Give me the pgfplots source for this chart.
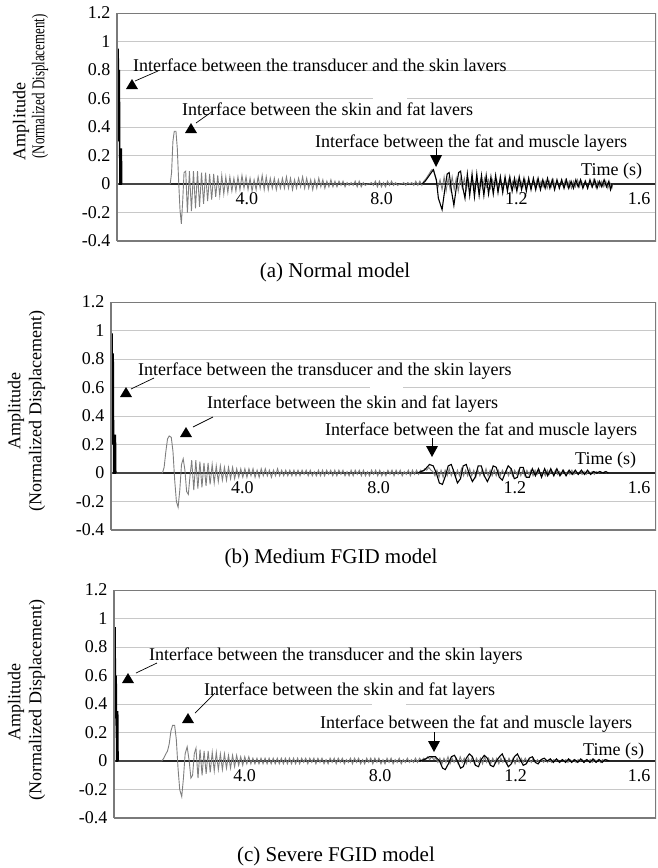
\documentclass[border=0pt]{standalone}
\usepackage{pgfplots}
\pgfplotsset{compat=1.18}
\usepackage{fontspec}
\setmainfont{Liberation Serif}
\newfontfamily\condfont[FakeStretch=0.72]{Liberation Serif}
\newcommand\fs{\fontsize{18}{21}\selectfont}
\newcommand\fcap{\fontsize{21}{24}\selectfont}
\definecolor{sig}{HTML}{7F7F7F}
\definecolor{framec}{HTML}{7A7A7A}
\definecolor{gridc}{HTML}{C8C8C8}

\pgfplotsset{
  panel/.style={
    anchor=north west, height=228pt, scale only axis,
    xmin=0, xmax=160, ymin=-0.4, ymax=1.2,
    axis x line*=middle, axis y line*=left,
    hide obscured x ticks=false, hide obscured y ticks=false,
    x axis line style={black!85, line width=1.1pt},
    y axis line style={framec, line width=1.2pt},
    major tick length=0pt,
    ytick={-0.4,-0.2,0,0.2,0.4,0.6,0.8,1,1.2},
    yticklabels={-0.4,-0.2,0,0.2,0.4,0.6,0.8,1,1.2},
    xtick={40,80,120}, xticklabels={4.0,8.0,1.2},
    extra x ticks={160}, extra x tick labels={1.6},
    extra x tick style={xticklabel style={anchor=north east, xshift=3pt}},
    tick label style={font=\fs},
    yticklabel style={xshift=-3pt},
    xticklabel style={xshift=-5pt, yshift=-5pt},
    ymajorgrids, grid style={gridc, line width=0.8pt},
  },
  grey/.style={sig, line width=0.9pt},
  blk/.style={black, line width=1.1pt},
}

\begin{document}
\begin{tikzpicture}
\useasboundingbox (0,0) rectangle (657pt,-868pt);

% ---------------- (a) Normal model
\begin{axis}[panel, at={(117pt,-13pt)}, width=539pt]
\addplot[grey] coordinates {
(0,0)(15.8,0)(16.2,0.08)(16.6,0.30)(17.0,0.37)(17.5,0.37)(17.9,0.25)(18.3,0.02)(18.7,-0.18)(19.1,-0.28)
(19.5,-0.12)(19.9,0.08)(20.4,0.09)(20.9,-0.20)(21.5,0.09)(22.1,-0.19)(22.7,0.09)(23.3,-0.17)(23.9,0.09)(24.5,-0.16)
(25.1,0.08)(25.7,-0.14)(26.3,0.08)(26.9,-0.12)(27.5,0.07)(28.1,-0.11)(28.7,0.07)(29.3,-0.09)(29.9,0.06)(30.5,-0.08)
(31.1,0.06)(31.7,-0.07)(32.3,0.05)(32.9,-0.06)(33.5,0.05)(34.1,-0.05)(34.7,0.04)(35.3,-0.05)(35.9,0.05)(36.5,-0.04)
(37.1,0.06)(37.7,-0.03)(38.3,0.05)(38.9,-0.04)(39.5,0.04)(40.1,-0.05)(40.7,0.03)(41.3,-0.04)(41.9,0.05)(42.5,-0.03)
(43.1,0.06)(43.7,-0.04)(44.3,0.05)(44.9,-0.04)(45.5,0.04)(46.1,-0.03)(46.7,0.04)(47.3,-0.04)(47.9,0.03)(48.5,-0.03)
(49.1,0.04)(49.7,-0.03)(50.3,0.05)(50.9,-0.03)(51.5,0.04)(52.1,-0.04)(52.7,0.03)(53.3,-0.03)(53.9,0.04)(54.5,-0.02)
(55.1,0.05)(55.7,-0.03)(56.3,0.04)(56.9,-0.03)(57.5,0.03)(58.1,-0.04)(58.7,0.03)(59.3,-0.03)(59.9,0.04)(60.5,-0.02)
(61.1,0.03)(61.7,-0.03)(62.3,0.02)(62.9,-0.02)(63.5,0.03)(64.1,-0.02)(64.7,0.02)(65.3,-0.02)(65.9,0.02)(66.5,-0.01)
(67.1,0.02)(67.7,-0.02)(68.3,0.01)(68.9,-0.01)(69.5,0.01)(70.1,-0.01)(70.7,0.02)(71.3,-0.02)(71.9,0.02)(72.5,-0.02)
(73.1,0.01)(73.7,-0.01)(74.3,0)(74.9,0)(75.5,0.01)(76.1,-0.01)(76.7,0.02)(77.3,-0.02)(77.9,0.02)(78.5,-0.02)
(79.1,0.01)(79.7,-0.02)(80.3,0.02)(80.9,-0.01)(81.5,0.02)(82.1,-0.01)(82.7,0.01)(83.3,-0.01)(83.9,0)(84.5,0)
(85.1,0.01)(85.7,-0.01)(86.3,0.01)(86.9,0)(87.5,0.01)(88.1,-0.01)(88.7,0.02)(89.3,-0.01)(89.9,0.02)(90.5,-0.01)
(91.1,0.02)(91.8,0.04)(92.6,0.07)(93.4,0.10)(94.0,0.10)(94.6,0.04)(95.3,-0.02)(95.9,0.03)(96.5,-0.04)(97.1,0.05)
(97.7,-0.05)(98.3,0.04)(98.9,-0.04)(99.5,0.05)(100.1,-0.04)(100.7,0.04)(101.3,-0.05)(101.9,0.04)(102.5,-0.03)(103.1,0.04)
(103.7,-0.04)(104.3,0.03)(104.9,-0.03)(105.5,0.04)(106.1,-0.03)(106.7,0.03)(107.3,-0.04)(107.9,0.03)(108.5,-0.03)(109.1,0.04)
(109.7,-0.02)(110.3,0.03)(110.9,-0.03)(111.5,0.03)(112.1,-0.02)(112.7,0.03)(113.3,-0.03)(113.9,0.02)(114.5,-0.03)(115.1,0.03)
(115.7,-0.02)(116.3,0.03)(116.9,-0.02)(117.5,0.02)(118.1,-0.03)(118.7,0.03)(119.3,-0.02)(119.9,0.02)(120.5,-0.02)(121.1,0.03)
(121.7,-0.02)(122.3,0.02)(122.9,-0.03)(123.5,0.02)(124.1,-0.02)(124.7,0.03)(125.3,-0.02)(125.9,0.02)(126.5,-0.02)(127.1,0.02)
(127.7,-0.03)(128.3,0.02)(128.9,-0.02)(129.5,0.03)(130.1,-0.02)(130.7,0.02)(131.3,-0.02)(131.9,0.02)(132.5,-0.02)(133.1,0.03)
(133.7,-0.02)(134.3,0.02)(134.9,-0.03)(135.5,0.02)(136.1,-0.02)(136.7,0.03)(137.3,-0.02)(137.9,0.02)(138.5,-0.02)(139.1,0.02)
(139.7,-0.03)(140.3,0.02)(140.9,-0.02)(141.5,0.03)(142.1,-0.02)(142.7,0.02)(143.3,-0.02)(143.9,0.02)(144.5,-0.02)(145.1,0.02)
(145.7,-0.03)(146.3,0.01)(146.9,-0.03)(147.2,0)
};
\addplot[blk, line width=1.5pt] coordinates {
(0,0)(0.15,0.66)(0.35,0.95)(0.55,0.3)(0.7,0.80)(0.85,0)(1.2,0)(1.3,0.25)(1.4,0)
};
\addplot[blk] coordinates {
(90.5,0)(91.5,0.02)(92.7,0.06)(93.9,0.10)(94.8,0.03)(95.4,-0.10)(96.5,-0.18)(97.3,-0.04)(98.0,0.07)(98.6,0.08)
(99.3,-0.05)(100.0,-0.15)(100.7,-0.03)(101.4,0.08)(102.0,0.09)(102.7,-0.03)(103.3,-0.10)(104.0,0.07)(104.7,-0.08)(105.4,0.07)
(106.1,-0.09)(106.8,0.07)(107.5,-0.08)(108.2,0.06)(108.9,-0.08)(109.6,0.06)(110.3,-0.07)(111.0,0.05)(111.7,-0.07)(112.4,0.06)
(113.1,-0.06)(113.8,0.05)(114.5,-0.06)(115.2,0.05)(115.9,-0.05)(116.6,0.05)(117.3,-0.05)(118.0,0.04)(118.7,-0.05)(119.4,0.05)
(120.1,-0.04)(120.8,0.04)(121.5,-0.05)(122.2,0.04)(122.9,-0.04)(123.6,0.04)(124.3,-0.04)(125.0,0.04)(125.7,-0.04)(126.4,0.03)
(127.1,-0.03)(127.8,0.04)(128.5,-0.03)(129.2,0.03)(129.9,-0.04)(130.6,0.03)(131.3,-0.03)(132.0,0.03)(132.7,-0.03)(133.4,0.03)
(134.1,-0.03)(134.8,0.02)(135.5,-0.03)(136.2,0.03)(136.9,-0.02)(137.6,0.03)(138.3,-0.03)(139.0,0.02)(139.7,-0.03)(140.4,0.03)
(141.1,-0.02)(141.8,0.03)(142.5,-0.03)(143.2,0.02)(143.9,-0.02)(144.6,0.03)(145.3,-0.02)(146.0,0.02)(146.5,-0.04)(147.0,0)
};
\draw[framec, line width=1.2pt] (rel axis cs:0,0) rectangle (rel axis cs:1,1);
\end{axis}

% ---------------- (b) Medium FGID model
\begin{axis}[panel, at={(111pt,-302pt)}, width=545pt]
\addplot[grey] coordinates {
(0,0)(15.1,0)(15.6,0.04)(16.1,0.15)(16.6,0.24)(17.1,0.26)(17.7,0.25)(18.2,0.15)(18.7,-0.05)(19.2,-0.20)
(19.7,-0.24)(20.2,-0.12)(20.7,0.06)(21.2,0.10)(21.7,0.02)(22.2,-0.13)(22.7,-0.15)(23.2,-0.02)(23.7,0.09)(24.3,-0.12)
(24.9,0.09)(25.5,-0.11)(26.1,0.08)(26.7,-0.10)(27.3,0.07)(27.9,-0.09)(28.5,0.07)(29.1,-0.08)(29.7,0.06)(30.3,-0.07)
(30.9,0.05)(31.5,-0.06)(32.1,0.05)(32.7,-0.05)(33.3,0.04)(33.9,-0.05)(34.5,0.04)(35.1,-0.04)(35.7,0.04)(36.3,-0.04)
(36.9,0.03)(37.5,-0.03)(38.1,0.03)(38.7,-0.03)(39.3,0.03)(39.9,-0.03)(40.5,0.03)(41.1,-0.02)(41.7,0.03)(42.3,-0.03)
(42.9,0.02)(43.5,-0.03)(44.1,0.03)(44.7,-0.02)(45.3,0.03)(45.9,-0.02)(46.5,0.02)(47.1,-0.03)(47.7,0.02)(48.3,-0.02)
(48.9,0.03)(49.5,-0.02)(50.1,0.02)(50.7,-0.02)(51.3,0.02)(51.9,-0.02)(52.5,0.02)(53.1,-0.02)(53.7,0.02)(54.3,-0.02)
(54.9,0.02)(55.5,-0.02)(56.1,0.02)(56.7,-0.01)(57.3,0.02)(57.9,-0.02)(58.5,0.02)(59.1,-0.02)(59.7,0.01)(60.3,-0.02)
(60.9,0.02)(61.5,-0.02)(62.1,0.02)(62.7,-0.02)(63.3,0.02)(63.9,-0.01)(64.5,0.02)(65.1,-0.02)(65.7,0.02)(66.3,-0.02)
(66.9,0.02)(67.5,-0.01)(68.1,0.02)(68.7,-0.02)(69.3,0.01)(69.9,-0.02)(70.5,0.02)(71.1,-0.02)(71.7,0.02)(72.3,-0.01)
(72.9,0.02)(73.5,-0.02)(74.1,0.02)(74.7,-0.02)(75.3,0.01)(75.9,-0.02)(76.5,0.02)(77.1,-0.01)(77.7,0.02)(78.3,-0.02)
(78.9,0.02)(79.5,-0.02)(80.1,0.01)(80.7,-0.02)(81.3,0.02)(81.9,-0.01)(82.5,0.02)(83.1,-0.02)(83.7,0.02)(84.3,-0.01)
(84.9,0.02)(85.5,-0.02)(86.1,0.01)(86.7,-0.01)(87.3,0.02)(87.9,-0.02)(88.5,0.02)(89.1,-0.01)(89.7,0.02)(90.3,-0.01)
(90.9,0.02)(91.5,0.01)(92.1,0.03)(92.7,0.02)(93.3,0.04)(93.9,0.02)(94.5,0.01)(95.1,-0.02)(95.7,0.02)(96.3,-0.03)
(96.9,0.02)(97.5,-0.03)(98.1,0.02)(98.7,-0.02)(99.3,0.03)(99.9,-0.02)(100.5,0.02)(101.1,-0.03)(101.7,0.02)(102.3,-0.02)
(102.9,0.03)(103.5,-0.02)(104.1,0.02)(104.7,-0.02)(105.3,0.03)(105.9,-0.02)(106.5,0.02)(107.1,-0.03)(107.7,0.02)(108.3,-0.02)
(108.9,0.02)(109.5,-0.02)(110.1,0.03)(110.7,-0.02)(111.3,0.02)(111.9,-0.02)(112.5,0.02)(113.1,-0.02)(113.7,0.02)(114.3,-0.02)
(114.9,0.02)(115.5,-0.01)(116.1,0.02)(116.7,-0.02)(117.3,0.02)(117.9,-0.02)(118.5,0.02)(119.1,-0.01)(119.7,0.02)(120.3,-0.02)
(120.9,0.02)(121.5,-0.02)(122.1,0.02)(122.7,-0.01)(123.3,0.02)(123.9,-0.02)(124.5,0.02)(125.1,-0.01)(125.7,0.02)(126.3,-0.02)
(126.9,0.01)(127.5,-0.02)(128.1,0.02)(128.7,-0.01)(129.3,0.02)(129.9,-0.01)(130.5,0.02)(131.1,-0.01)(131.7,0.01)(132.3,-0.01)
(132.9,0.02)(133.5,-0.01)(134.1,0.01)(134.7,-0.01)(135.3,0.02)(135.9,-0.01)(136.5,0.01)(137.1,-0.01)(137.7,0.01)(138.3,-0.01)
(138.9,0.01)(139.5,-0.01)(140.1,0.01)(140.7,0)(141.3,0.01)(141.9,-0.01)(142.5,0.01)(143.1,0)(143.7,0.01)(144.3,0)
(145.0,0.01)(145.5,0)
};
\addplot[blk, line width=1.5pt] coordinates {
(0,0)(0.1,0.56)(0.3,0.98)(0.5,0.2)(0.65,0.84)(0.8,0)(1.2,0)(1.3,0.27)(1.4,0)
};
\addplot[blk] coordinates {
(90.0,0)(92.0,0.02)(93.5,0.06)(94.6,0.05)(95.5,0)(96.4,-0.07)(97.3,-0.08)(98.2,-0.02)(99.0,0.05)(99.9,0.06)
(100.8,0)(101.7,-0.07)(102.6,-0.04)(103.4,0.05)(104.3,0.06)(105.2,-0.01)(106.1,-0.06)(106.9,-0.03)(107.8,0.05)(108.7,0.05)
(109.6,-0.02)(110.5,-0.06)(111.3,-0.02)(112.2,0.05)(113.1,0.04)(114.0,-0.03)(114.9,-0.05)(115.7,0)(116.6,0.05)(117.5,0.03)
(118.4,-0.04)(119.3,-0.03)(120.1,0.04)(121.0,0.04)(121.9,-0.03)(122.8,-0.03)(123.7,0.03)(124.6,-0.02)(125.5,0.03)(126.4,-0.03)
(127.3,0.03)(128.2,-0.02)(129.1,0.03)(130.0,-0.02)(130.9,0.03)(131.8,-0.02)(132.7,0.02)(133.6,-0.02)(134.5,0.02)(135.4,-0.01)
(136.3,0.02)(137.2,-0.01)(138.1,0.02)(139.0,-0.01)(139.9,0.02)(140.8,-0.01)(141.7,0.01)(142.6,0)(143.5,0.01)(144.4,0)
(145.3,0.01)(146.0,0)
};
\draw[framec, line width=1.2pt] (rel axis cs:0,0) rectangle (rel axis cs:1,1);
\end{axis}

% ---------------- (c) Severe FGID model
\begin{axis}[panel, at={(114pt,-590pt)}, width=542pt]
\addplot[grey] coordinates {
(0,0)(14.1,0)(14.7,0.02)(15.3,0.05)(15.8,0.07)(16.3,0.12)(16.8,0.21)(17.3,0.25)(17.9,0.25)(18.4,0.15)
(18.9,-0.05)(19.4,-0.20)(20.0,-0.25)(20.5,-0.12)(21.0,0.05)(21.6,0.10)(22.2,0)(22.7,-0.12)(23.2,-0.10)(23.7,0.05)
(24.2,0.09)(24.8,-0.12)(25.4,0.08)(26.0,-0.10)(26.6,0.07)(27.2,-0.09)(27.8,0.07)(28.4,-0.08)(29.0,0.06)(29.6,-0.07)
(30.2,0.06)(30.8,-0.06)(31.4,0.05)(32.0,-0.06)(32.6,0.05)(33.2,-0.05)(33.8,0.04)(34.4,-0.05)(35.0,0.04)(35.6,-0.04)
(36.2,0.04)(36.8,-0.03)(37.4,0.03)(38.0,-0.03)(38.6,0.03)(39.2,-0.02)(39.8,0.03)(40.4,-0.02)(41.0,0.02)(41.6,-0.02)
(42.2,0.02)(42.8,-0.02)(43.4,0.02)(44.0,-0.02)(44.6,0.02)(45.2,-0.02)(45.8,0.02)(46.4,-0.02)(47.0,0.02)(47.6,-0.02)
(48.2,0.02)(48.8,-0.02)(49.4,0.02)(50.0,-0.02)(50.6,0.02)(51.2,-0.02)(51.8,0.02)(52.4,-0.02)(53.0,0.02)(53.6,-0.02)
(54.2,0.02)(54.8,-0.02)(55.4,0.02)(56.0,-0.01)(56.6,0.02)(57.2,-0.02)(57.8,0.02)(58.4,-0.01)(59.0,0.02)(59.6,-0.02)
(60.2,0.02)(60.8,-0.01)(61.4,0.02)(62.0,-0.02)(62.6,0.01)(63.2,-0.02)(63.8,0.02)(64.4,-0.01)(65.0,0.02)(65.6,-0.02)
(66.2,0.02)(66.8,-0.01)(67.4,0.02)(68.0,-0.02)(68.6,0.01)(69.2,-0.01)(69.8,0.02)(70.4,-0.02)(71.0,0.02)(71.6,-0.01)
(72.2,0.02)(72.8,-0.02)(73.4,0.01)(74.0,-0.02)(74.6,0.02)(75.2,-0.01)(75.8,0.02)(76.4,-0.02)(77.0,0.02)(77.6,-0.01)
(78.2,0.02)(78.8,-0.02)(79.4,0.01)(80.0,-0.02)(80.6,0.02)(81.2,-0.01)(81.8,0.02)(82.4,-0.02)(83.0,0.01)(83.6,-0.01)
(84.2,0.02)(84.8,-0.02)(85.4,0.01)(86.0,-0.01)(86.6,0.02)(87.2,-0.01)(87.8,0.01)(88.4,-0.01)(89.0,0.02)(89.6,-0.01)
(90.2,0.02)(90.8,0)(91.4,0.02)(92.0,0.01)(92.6,0.03)(93.2,0.01)(93.8,0.03)(94.4,0.01)(95.0,0.02)(95.6,-0.01)
(96.2,0.02)(96.8,-0.02)(97.4,0.02)(98.0,-0.01)(98.6,0.03)(99.2,-0.02)(99.8,0.02)(100.4,-0.01)(101.0,0.02)(101.6,-0.02)
(102.2,0.03)(102.8,-0.01)(103.4,0.02)(104.0,-0.02)(104.6,0.02)(105.2,-0.01)(105.8,0.03)(106.4,-0.02)(107.0,0.02)(107.6,-0.01)
(108.2,0.02)(108.8,-0.02)(109.4,0.03)(110.0,-0.01)(110.6,0.02)(111.2,-0.02)(111.8,0.02)(112.4,-0.01)(113.0,0.02)(113.6,-0.02)
(114.2,0.02)(114.8,-0.01)(115.4,0.02)(116.0,-0.02)(116.6,0.02)(117.2,-0.01)(117.8,0.02)(118.4,-0.02)(119.0,0.02)(119.6,-0.01)
(120.2,0.02)(120.8,-0.01)(121.4,0.02)(122.0,-0.01)(122.6,0.01)(123.2,-0.01)(123.8,0.02)(124.4,-0.01)(125.0,0.01)(125.6,-0.01)
(126.2,0.01)(126.8,-0.01)(127.4,0.01)(128.0,-0.01)(128.6,0.01)(129.2,-0.01)(129.8,0.01)(130.4,0)(131.0,0.01)(131.6,-0.01)
(132.2,0.01)(132.8,0)(133.4,0.01)(134.0,-0.01)(134.6,0.01)(135.2,0)(135.8,0.01)(136.4,-0.01)(137.0,0.01)(137.6,0)
(138.2,0.01)(138.8,-0.01)(139.4,0.01)(140.0,0)(140.6,0.01)(141.2,-0.01)(141.8,0.01)(142.4,0)(143.0,0.01)(143.6,-0.01)
(144.2,0.01)(144.8,0)(145.4,0.01)(146.0,0)
};
\addplot[blk, line width=1.5pt] coordinates {
(0,0)(0.1,0.22)(0.3,0.94)(0.5,0.3)(0.65,0.6)(0.8,0)(1.0,0)(1.1,0.35)(1.2,0)
};
\addplot[blk] coordinates {
(90.2,0)(91.6,0.01)(93.1,0.03)(94.9,0.03)(96.1,0)(97.0,-0.05)(97.8,-0.06)(98.7,-0.02)(99.6,0.03)(100.5,0.04)
(101.4,0)(102.3,-0.05)(103.1,-0.04)(104.0,0.02)(104.9,0.05)(105.8,0.03)(106.7,-0.03)(107.6,-0.04)(108.4,0.01)(109.3,0.04)
(110.2,0.02)(111.1,-0.03)(112.0,-0.04)(112.9,0)(113.8,0.03)(114.6,0.05)(115.5,0)(116.4,-0.04)(117.3,-0.02)(118.2,0.03)
(119.1,0.05)(119.9,0.01)(120.8,-0.03)(121.7,-0.02)(122.6,0.02)(123.5,0.03)(124.4,-0.01)(125.2,-0.02)(126.1,0.01)(127.0,0.02)
(127.9,0)(128.8,0.015)(129.7,-0.01)(130.6,0.015)(131.5,-0.01)(132.4,0.01)(133.3,-0.01)(134.2,0.015)(135.1,-0.01)(136.0,0.01)
(136.9,-0.01)(137.8,0.015)(138.7,-0.01)(139.6,0.01)(140.5,-0.01)(141.4,0.015)(142.3,-0.01)(143.2,0.01)(144.1,-0.01)(145.0,0.01)
(146.2,0)
};
\draw[framec, line width=1.2pt] (rel axis cs:0,0) rectangle (rel axis cs:1,1);
\end{axis}

\begin{scope}[x=1pt, y=-1pt, font=\fs]
% gaps in grid lines
\fill[white] (373,95) rectangle (407,99.5);
\fill[white] (370,384) rectangle (403,389);
\fill[white] (372,704) rectangle (406,708.5);

% y labels
\node[rotate=90] at (21,121.5) {Amplitude};
\node[rotate=90] at (40,86.5) {\condfont (Normalized Displacement)};
\node[rotate=90] at (16,411) {Amplitude};
\node[rotate=90] at (37,411) {(Normalized Displacement)};
\node[rotate=90] at (16,702) {Amplitude};
\node[rotate=90] at (37,700) {(Normalized Displacement)};

% panel (a) annotations
\node[anchor=base west, inner sep=0pt] at (133,71) {Interface between the transducer and the skin lavers};
\draw[line width=0.7pt] (158,71) -- (135,81);
\fill (126,89) -- (138,89) -- (132,79) -- cycle;
\node[anchor=base west, inner sep=0pt] at (182,115) {Interface between the skin and fat lavers};
\draw[line width=0.7pt] (213,111) -- (196,123);
\fill (185,133) -- (197,133) -- (191,123) -- cycle;
\node[anchor=base west, inner sep=0pt] at (315,147) {Interface between the fat and muscle layers};
\draw[line width=0.7pt] (436,148) -- (436,156);
\fill (430,155) -- (442,155) -- (436,167) -- cycle;
\node[anchor=base west, inner sep=0pt] at (581,175) {Time (s)};

% panel (b) annotations
\node[anchor=base west, inner sep=0pt] at (138,375) {Interface between the transducer and the skin layers};
\draw[line width=0.7pt] (154,378) -- (131,389);
\fill (120,397) -- (132,397) -- (126,387) -- cycle;
\node[anchor=base west, inner sep=0pt] at (207,408) {Interface between the skin and fat layers};
\draw[line width=0.7pt] (213,417) -- (193,427);
\fill (180,437) -- (192,437) -- (186,427) -- cycle;
\node[anchor=base west, inner sep=0pt] at (325,435) {Interface between the fat and muscle layers};
\draw[line width=0.7pt] (432,438) -- (432,447);
\fill (426,446) -- (438,446) -- (432,457) -- cycle;
\node[anchor=base west, inner sep=0pt] at (575,464) {Time (s)};

% panel (c) annotations
\node[anchor=base west, inner sep=0pt] at (149,660) {Interface between the transducer and the skin layers};
\draw[line width=0.7pt] (157,663) -- (136,673);
\fill (122,683) -- (134,683) -- (128,673) -- cycle;
\node[anchor=base west, inner sep=0pt] at (204,695) {Interface between the skin and fat layers};
\draw[line width=0.7pt] (215,693) -- (195,713);
\fill (182,723) -- (194,723) -- (188,713) -- cycle;
\node[anchor=base west, inner sep=0pt] at (320,728) {Interface between the fat and muscle layers};
\draw[line width=0.7pt] (434,732) -- (434,741);
\fill (428,741) -- (440,741) -- (434,752) -- cycle;
\node[anchor=base west, inner sep=0pt] at (583,755) {Time (s)};

% captions
\node[anchor=base, font=\fcap] at (335,277) {(a) Normal model};
\node[anchor=base, font=\fcap] at (331,563) {(b) Medium FGID model};
\node[anchor=base, font=\fcap] at (336,861) {(c) Severe FGID model};
\end{scope}
\end{tikzpicture}
\end{document}
